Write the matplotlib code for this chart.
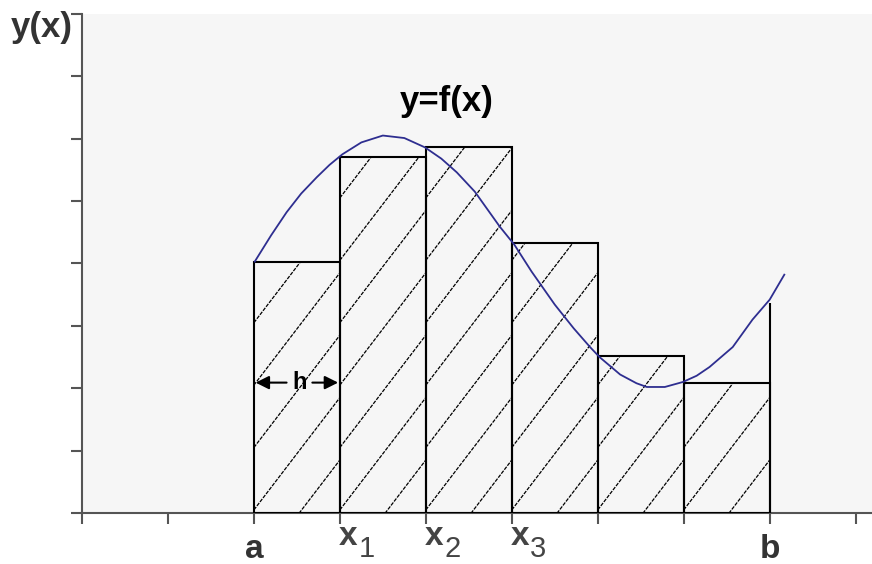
import numpy as np
import matplotlib.pyplot as plt
from matplotlib.patches import Rectangle

plt.rcParams['font.family'] = ['Liberation Sans', 'DejaVu Sans']

# Data
edges = [2, 3, 4, 5, 6, 7, 8]
heights = [4.03, 5.70, 5.86, 4.32, 2.52, 2.09]
f_b = 3.37

curve_x = [2.01, 2.20, 2.38, 2.55, 2.73, 2.88, 3.03, 3.25, 3.50, 3.75, 3.99, 4.18,
           4.36, 4.57, 4.86, 5.03, 5.23, 5.50, 5.72, 5.91, 6.02, 6.26, 6.45, 6.57,
           6.78, 6.99, 7.15, 7.30, 7.57, 7.80, 8.00, 8.17]
curve_y = [4.03, 4.45, 4.82, 5.12, 5.38, 5.58, 5.75, 5.94, 6.05, 6.01, 5.86, 5.68,
           5.46, 5.15, 4.59, 4.30, 3.87, 3.34, 2.96, 2.66, 2.50, 2.22, 2.08, 2.02,
           2.02, 2.10, 2.20, 2.34, 2.66, 3.10, 3.42, 3.82]

tick_labels = {2: 'a', 8: 'b'}
sub_labels = {3: '1', 4: '2', 5: '3'}

fig = plt.figure(figsize=(8.72, 5.64), dpi=100)
ax = fig.add_axes([0.094, 0.0904, 0.906, 0.885])
ax.set_facecolor('#f6f6f6')
ax.set_xlim(0, 9.19)
ax.set_ylim(0, 8)

for s in ['top', 'right']:
    ax.spines[s].set_visible(False)
for s in ['left', 'bottom']:
    ax.spines[s].set_color('#555555')
    ax.spines[s].set_linewidth(1.5)
ax.set_xticks(range(10))
ax.set_yticks(range(9))
ax.set_xticklabels([])
ax.set_yticklabels([])
ax.tick_params(direction='out', length=8, width=1.5, color='#555555')

# hatch lines, slope and spacing in data units
slope = 1.8
step = 1.0
for i, h in enumerate(heights):
    x0 = edges[i]
    w = edges[i + 1] - x0
    rect = Rectangle((x0, 0), w, h, facecolor='none', edgecolor='black',
                     linewidth=1.5, zorder=3)
    ax.add_patch(rect)
    for k in np.arange(-3, 8, step):
        ln, = ax.plot([x0, x0 + w], [k + 0.05, k + 0.05 + slope * w],
                      color='black', linewidth=0.9, linestyle=(0, (3, 1)),
                      zorder=2)
        ln.set_clip_path(rect)

ax.vlines(edges[-1], 0, f_b, color='black', linewidth=1.5, zorder=3)

ax.plot(curve_x, curve_y, color='#2e2e90', linewidth=1.3, zorder=4)

# width marker h
hx, hy = 2.53, 2.09
ax.text(hx, hy, 'h', ha='center', va='center', fontsize=17,
        fontweight='bold', color='black', zorder=5)
ax.annotate('', xy=(edges[0] + 0.02, hy), xytext=(hx - 0.15, hy),
            arrowprops=dict(arrowstyle='-|>', color='black', lw=1.5,
                            mutation_scale=20, shrinkA=0, shrinkB=0))
ax.annotate('', xy=(edges[1] - 0.02, hy), xytext=(hx + 0.15, hy),
            arrowprops=dict(arrowstyle='-|>', color='black', lw=1.5,
                            mutation_scale=20, shrinkA=0, shrinkB=0))

ax.text(4.24, 6.44, 'y=f(x)', ha='center', va='baseline', fontsize=25,
        fontweight='bold', color='black')

fig.text(0.012, 0.934, 'y(x)', ha='left', va='baseline', fontsize=25,
         fontweight='bold', color='#333333')

for xt, lab in tick_labels.items():
    ax.text(xt, -0.72, lab, ha='center', va='baseline', fontsize=24,
            fontweight='bold', color='#333333', clip_on=False)
for xt, lab in sub_labels.items():
    ax.text(xt + 0.1, -0.51, 'x', ha='center', va='baseline', fontsize=24,
            fontweight='bold', color='#444444', clip_on=False)
    ax.text(xt + 0.31, -0.70, lab, ha='center', va='baseline', fontsize=21,
            color='#444444', clip_on=False)

fig.savefig('out.png', dpi=100)
